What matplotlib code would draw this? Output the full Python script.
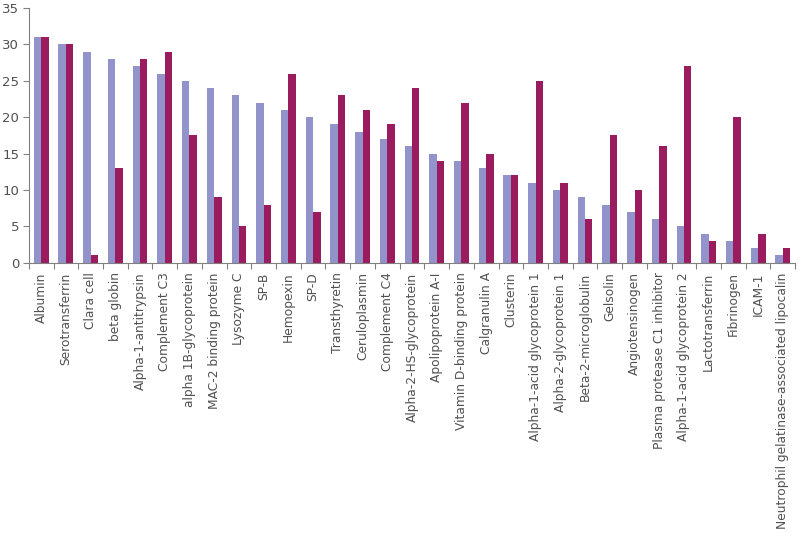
import matplotlib
matplotlib.use("Agg")
import matplotlib.pyplot as plt
import numpy as np

proteins = ["Albumin", "Serotransferrin", "Clara cell", "beta globin", "Alpha-1-antitrypsin",
            "Complement C3", "alpha 1B-glycoprotein", "MAC-2 binding protein", "Lysozyme C", "SP-B",
            "Hemopexin", "SP-D", "Transthyretin", "Ceruloplasmin", "Complement C4",
            "Alpha-2-HS-glycoprotein", "Apolipoprotein A-I", "Vitamin D-binding protein",
            "Calgranulin A", "Clusterin", "Alpha-1-acid glycoprotein 1", "Alpha-2-glycoprotein 1",
            "Beta-2-microglobulin", "Gelsolin", "Angiotensinogen", "Plasma protease C1 inhibitor",
            "Alpha-1-acid glycoprotein 2", "Lactotransferrin", "Fibrinogen", "ICAM-1",
            "Neutrophil gelatinase-associated lipocalin"]
series_a = [31, 30, 29, 28, 27, 26, 25, 24, 23, 22, 21, 20, 19, 18, 17, 16, 15, 14, 13, 12,
            11, 10, 9, 8, 7, 6, 5, 4, 3, 2, 1]
series_b = [31, 30, 1, 13, 28, 29, 17.5, 9, 5, 8, 26, 7, 23, 21, 19, 24, 14, 22, 15, 12,
            25, 11, 6, 17.5, 10, 16, 27, 3, 20, 4, 2]
yticks = [0, 5, 10, 15, 20, 25, 30, 35]

fig = plt.figure(figsize=(8, 5.33), dpi=100)
ax = fig.add_axes([0.036, 0.507, 0.958, 0.478])

x = np.arange(len(proteins))
w = 0.3
ax.bar(x - w / 2, series_a, w, color="#9393CB", linewidth=0)
ax.bar(x + w / 2, series_b, w, color="#9B1C5E", linewidth=0)

ax.set_xlim(-0.5, len(proteins) - 0.5)
ax.set_ylim(0, 35)
ax.set_yticks(yticks)

# ticks sit between categories, labels in the middle
ax.set_xticks(np.arange(len(proteins) + 1) - 0.5)
ax.set_xticklabels([])
ax.set_xticks(x, minor=True)
ax.set_xticklabels(proteins, minor=True, rotation=90, fontsize=8.8, color="#505050")
ax.tick_params(axis="x", which="minor", length=0, pad=7)
ax.tick_params(axis="x", which="major", length=4, color="#808080")
ax.tick_params(axis="y", length=4, color="#808080", labelsize=9.5, labelcolor="#505050", pad=3)

for s in ["top", "right"]:
    ax.spines[s].set_visible(False)
for s in ["left", "bottom"]:
    ax.spines[s].set_color("#808080")

fig.savefig("out.png", dpi=100)
